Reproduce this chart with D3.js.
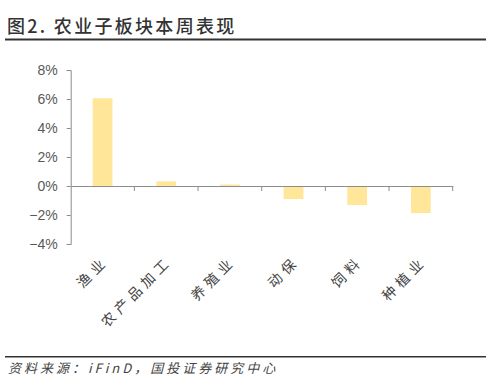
<!DOCTYPE html>
<html><head><meta charset="utf-8">
<script src="https://cdn.jsdelivr.net/npm/d3@7"></script>
<style>
body{margin:0;background:#fff;}
svg{display:block;}
</style></head>
<body><svg id="c" width="491" height="382"></svg>
<script>
const categories = ["渔业","农产品加工","养殖业","动保","饲料","种植业"];
const values = [6.05, 0.32, 0.1, -0.9, -1.31, -1.86];
const yTicks = [-4,-2,0,2,4,6,8];
const title = "图2. 农业子板块本周表现";
const source = "资料来源：iFinD，国投证券研究中心";

const svg = d3.select("#c");
const x = d3.scaleBand().domain(categories).range([70.7, 452.7]).paddingInner(0.69).paddingOuter(0.345);
const y = d3.scaleLinear().domain([-4, 8]).range([244, 70]);

// title
svg.append("text").attr("x", 7).attr("y", 33).text(title)
  .attr("font-family", "Noto Sans CJK SC").attr("font-size", 18).attr("font-weight", 500)
  .attr("letter-spacing", 2.3).attr("fill", "#333");
svg.append("line").attr("x1", 5).attr("x2", 486).attr("y1", 39.5).attr("y2", 39.5)
  .attr("stroke", "#333").attr("stroke-width", 2);

// bars
svg.selectAll("rect.bar").data(values).enter().append("rect")
  .attr("x", (d,i) => x(categories[i]))
  .attr("width", x.bandwidth())
  .attr("y", d => y(Math.max(0, d)))
  .attr("height", d => Math.abs(y(d) - y(0)))
  .attr("fill", "#FFE699");

// y axis
const yAxis = d3.axisLeft(y).tickValues(yTicks).tickFormat(d => d + "%").tickSize(4);
const gy = svg.append("g").attr("transform", "translate(70.7,0)").call(yAxis);
gy.select(".domain").attr("stroke", "#8c8c8c");
gy.selectAll(".tick line").attr("stroke", "#8c8c8c");
gy.selectAll(".tick text").attr("font-family", "Liberation Sans, Arial").attr("font-size", 14)
  .attr("fill", "#595959").attr("x", -13).text(d => (d < 0 ? "\u2212" + Math.abs(d) : d) + "%");

// x axis at zero
const xAxis = d3.axisBottom(x).tickSize(0).tickFormat("");
const gx = svg.append("g").attr("transform", `translate(0,${y(0)})`).call(xAxis);
gx.select(".domain").attr("stroke", "#8c8c8c");
const step = x.step();
const b0 = x.range()[0];
gx.selectAll("line.bt").data(d3.range(1, categories.length + 1)).enter().append("line")
  .attr("x1", i => b0 + i*step).attr("x2", i => b0 + i*step)
  .attr("y1", 0).attr("y2", 5).attr("stroke", "#8c8c8c");

// category labels
svg.selectAll("text.cat").data(categories).enter().append("text")
  .attr("transform", d => `translate(${x(d) + x.bandwidth()/2 + 3},${259}) rotate(-45)`)
  .attr("text-anchor", "end")
  .attr("font-family", "Noto Sans CJK SC").attr("font-size", 14)
  .attr("letter-spacing", 4.5).attr("fill", "#444")
  .attr("dy", "0.35em")
  .text(d => d);

// footer
svg.append("line").attr("x1", 5).attr("x2", 486).attr("y1", 356.7).attr("y2", 356.7)
  .attr("stroke", "#333").attr("stroke-width", 1.5);
svg.append("text").attr("x", 8).attr("y", 373).text(source)
  .attr("font-family", "Noto Sans CJK SC").attr("font-size", 13).attr("font-style", "italic")
  .attr("letter-spacing", 3).attr("fill", "#444");
</script></body></html>
